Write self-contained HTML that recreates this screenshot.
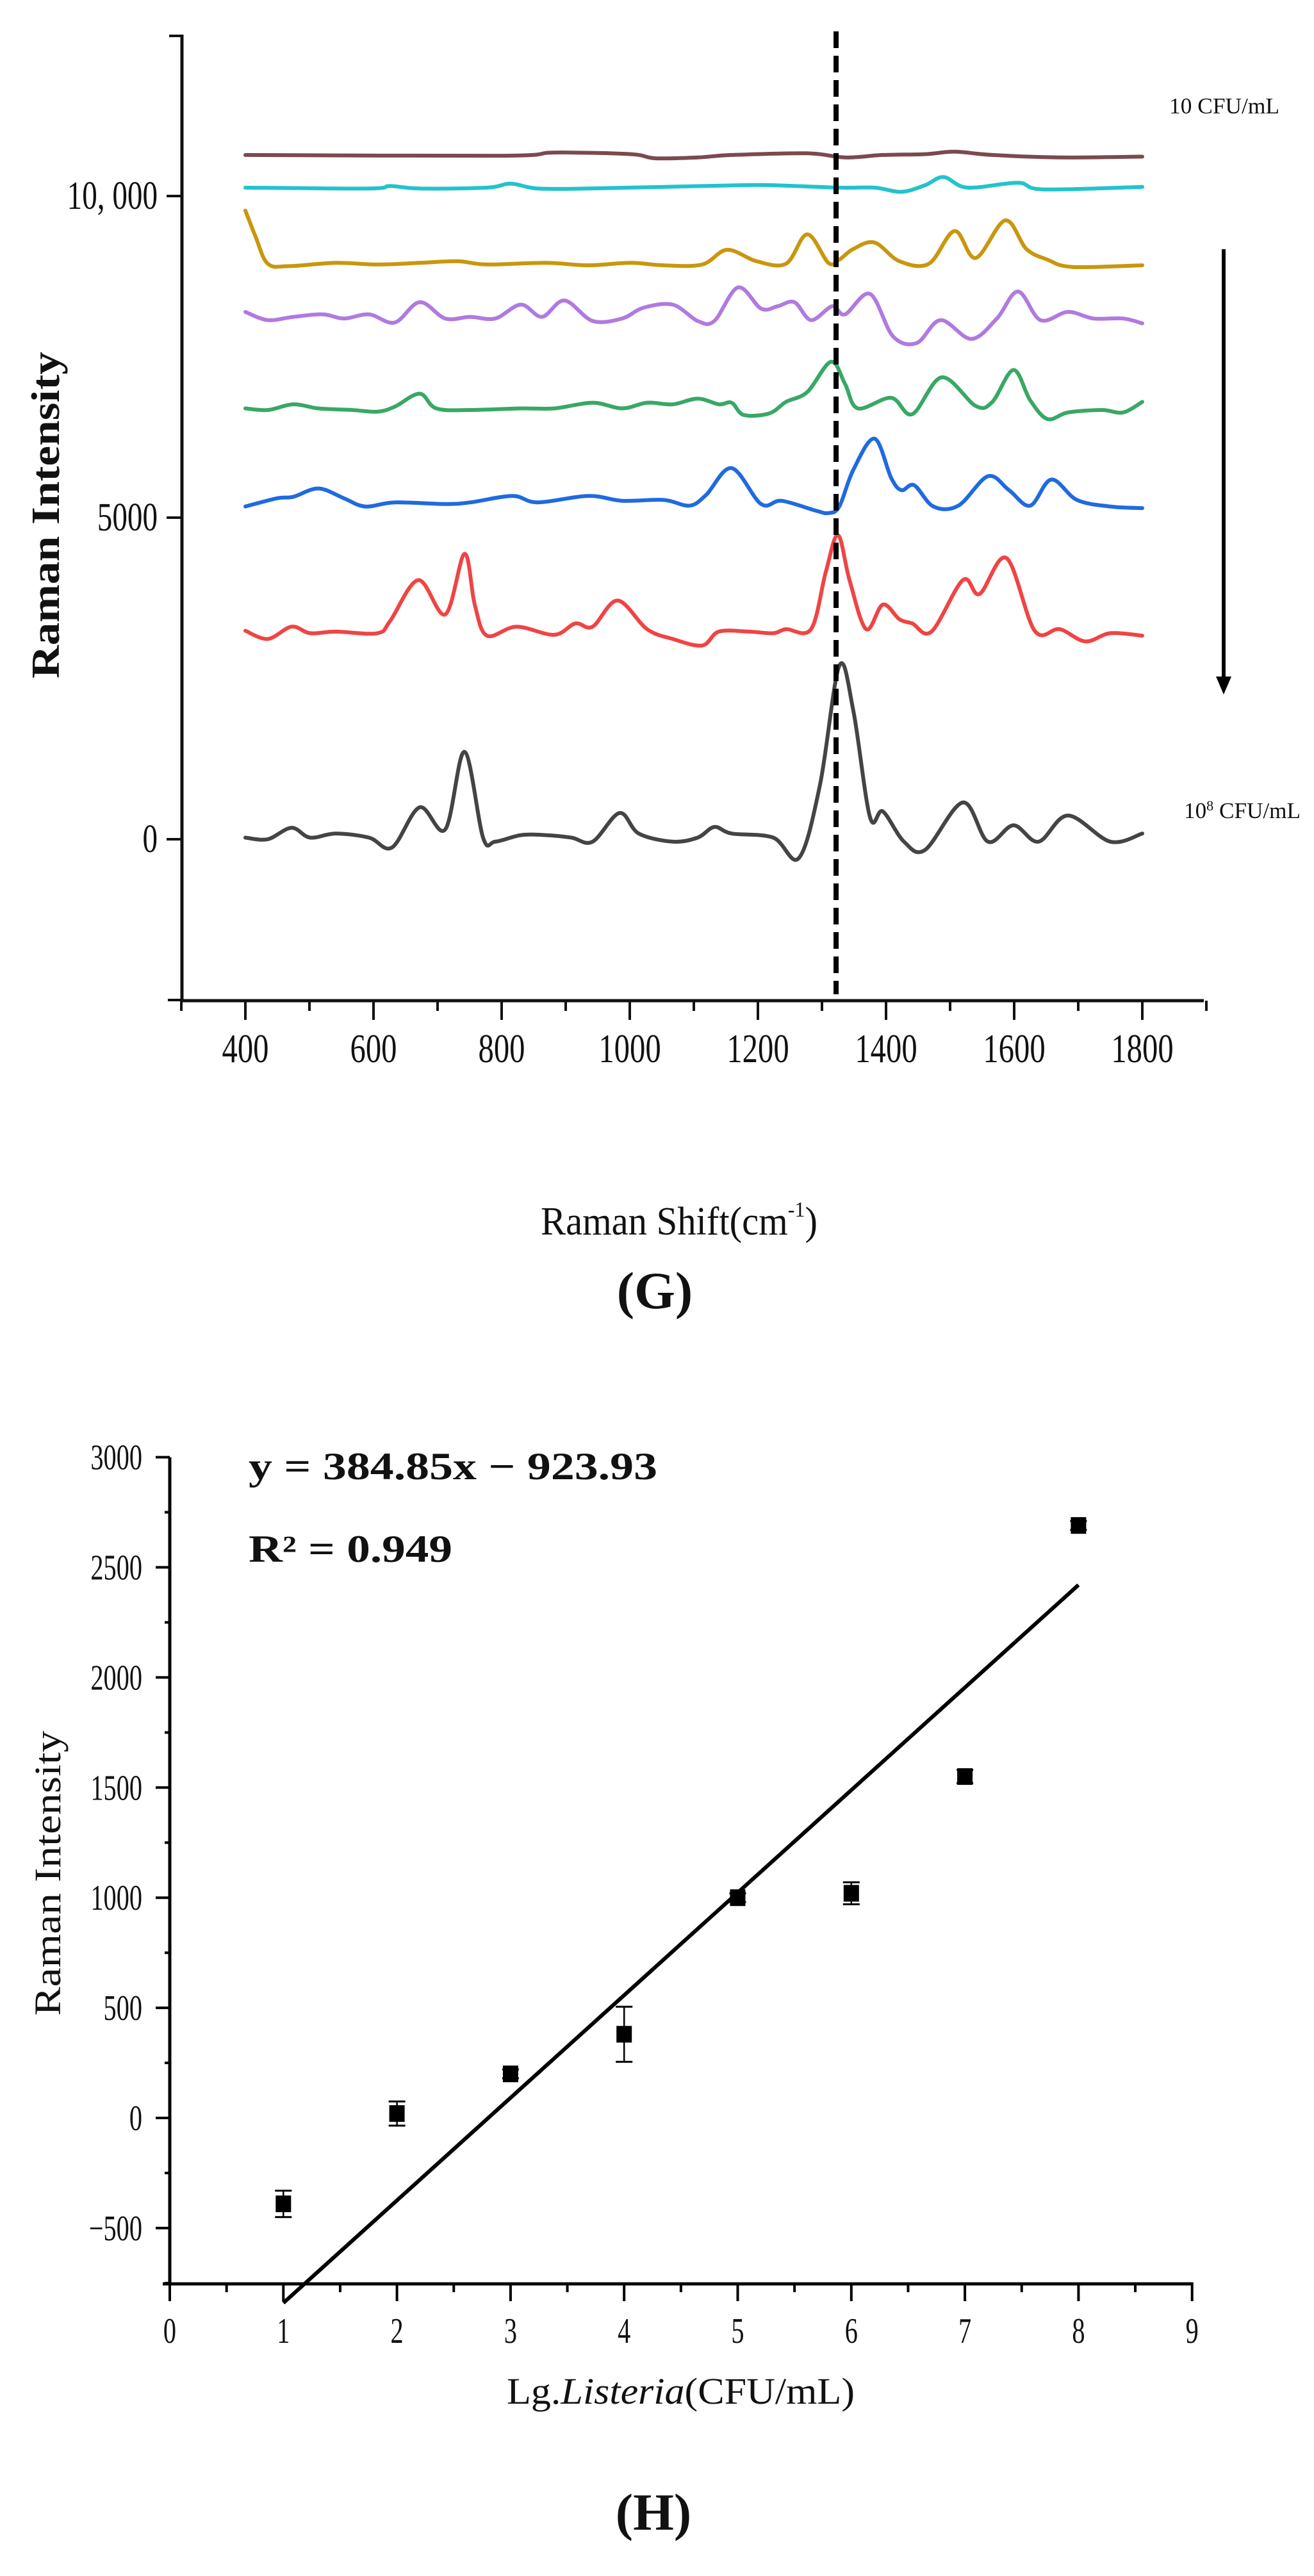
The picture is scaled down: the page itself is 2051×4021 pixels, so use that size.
<!DOCTYPE html>
<html><head><meta charset="utf-8"><style>
html,body{margin:0;padding:0;background:#fff;}
svg{display:block;}
text{font-family:"Liberation Serif",serif;fill:#111;}
</style></head><body>
<svg id="fig" width="2051" height="4021" viewBox="0 0 2051 4021" xmlns="http://www.w3.org/2000/svg">
<g id="chartG"></g>
<g id="chartH"></g>
</svg>
<script>
// ===== Chart G data =====
const gXTicks = [400, 600, 800, 1000, 1200, 1400, 1600, 1800];
const gYTicks = [0, 5000, 10000];
const gYTickLabels = ["0", "5000", "10, 000"];
const gMarker = 1322;
const gColors = ["#7a4a4e", "#22c3cc", "#c9960e", "#b07ae0", "#38a865", "#1f6ae0", "#f04444", "#444444"];
const gNames = ["series-10-cfu", "series-10e2-cfu", "series-10e3-cfu", "series-10e4-cfu", "series-10e5-cfu", "series-10e6-cfu", "series-10e7-cfu", "series-10e8-cfu"];
const brownX = [400,804,882,1001,1040,1106,1159,1277,1336,1395,1461,1507,1566,1671,1800];
const brownY = [10638,10626,10676,10651,10587,10600,10638,10664,10600,10638,10651,10689,10638,10600,10613];
const cyanX = [400,593,626,672,777,814,856,935,1053,1172,1224,1329,1382,1424,1461,1490,1527,1606,1645,1800];
const cyanY = [10130,10117,10155,10117,10130,10193,10117,10117,10142,10168,10168,10130,10130,10066,10168,10295,10130,10206,10104,10142];
const goldX = [400,416,435,468,541,606,672,731,777,869,935,1001,1053,1113,1152,1198,1244,1277,1310,1327,1349,1382,1421,1467,1507,1540,1586,1619,1652,1691,1800];
const goldY = [9774,9367,8948,8910,8961,8935,8961,8986,8935,8961,8923,8961,8923,8935,9164,8986,8948,9405,8961,9011,9177,9278,8986,8948,9456,9037,9621,9177,9011,8897,8923];
const purpleX = [400,435,475,521,554,593,633,672,712,751,790,830,863,898,942,988,1021,1067,1106,1132,1169,1205,1231,1257,1283,1316,1336,1375,1411,1448,1485,1533,1573,1606,1641,1684,1724,1770,1800];
const purpleY = [8198,8071,8122,8160,8096,8160,8033,8350,8096,8122,8096,8312,8122,8376,8058,8096,8262,8312,8058,8058,8579,8249,8287,8350,8071,8287,8160,8478,7817,7715,8071,7779,8096,8516,8071,8198,8096,8096,8020];
const greenX = [400,435,475,514,567,606,633,672,698,751,830,882,942,988,1027,1067,1106,1139,1159,1178,1218,1244,1277,1314,1336,1356,1408,1441,1487,1540,1566,1599,1625,1652,1684,1737,1770,1800];
const greenY = [6698,6673,6762,6698,6673,6647,6724,6927,6698,6673,6698,6698,6787,6698,6787,6762,6851,6762,6787,6596,6622,6800,6952,7423,7079,6698,6863,6609,7181,6736,6800,7296,6825,6533,6635,6673,6635,6800];
const blueX = [400,449,475,514,554,587,633,712,751,817,856,935,988,1053,1093,1119,1159,1205,1237,1290,1310,1327,1349,1382,1408,1424,1444,1474,1513,1559,1592,1625,1658,1698,1750,1800];
const blueY = [5173,5300,5325,5453,5300,5173,5237,5211,5237,5338,5237,5338,5262,5275,5186,5351,5770,5211,5262,5110,5071,5173,5745,6228,5618,5427,5503,5173,5186,5643,5427,5186,5592,5275,5173,5148];
const redX = [400,435,472,501,541,606,626,670,712,742,758,777,823,882,915,942,981,1027,1067,1113,1139,1185,1224,1244,1283,1306,1325,1343,1369,1395,1421,1441,1471,1520,1546,1588,1632,1671,1711,1750,1800];
const redY = [3241,3114,3305,3203,3228,3203,3394,4029,3495,4436,3648,3165,3305,3178,3355,3305,3711,3266,3114,3012,3228,3228,3203,3266,3266,4156,4728,4029,3266,3648,3419,3355,3228,4029,3813,4372,3241,3266,3076,3203,3165];
const blackX = [400,435,472,501,541,593,629,672,712,742,771,790,830,869,909,942,984,1014,1067,1106,1132,1159,1224,1264,1297,1327,1349,1375,1395,1428,1461,1520,1559,1599,1638,1684,1750,1800];
const blackY = [25,0,178,25,89,25,-127,496,153,1360,25,-38,64,64,25,-38,407,89,-38,25,191,89,25,-292,851,2695,1996,343,432,-38,-165,572,-38,216,-38,369,-38,89];

// ===== Chart H data =====
const hXTicks = [0,1,2,3,4,5,6,7,8,9];
const hYTicks = [-500,0,500,1000,1500,2000,2500,3000];
const hPointX = [1,2,3,4,5,6,7,8];
const hPointY = [-390,20,200,380,1000,1020,1550,2690];
const hPointErr = [60,55,20,125,20,50,30,20];
const hFitX = [1,8];
const hFitY = [-840,2420];

const NS = "http://www.w3.org/2000/svg";
function mk(tag, attrs, parent){ const e=document.createElementNS(NS,tag); for(const k in attrs) e.setAttribute(k,attrs[k]); parent.appendChild(e); return e; }
function smooth(pts){
  let d = "M"+pts[0][0].toFixed(1)+","+pts[0][1].toFixed(1);
  for(let i=0;i<pts.length-1;i++){
    const p0=pts[Math.max(0,i-1)], p1=pts[i], p2=pts[i+1], p3=pts[Math.min(pts.length-1,i+2)];
    const c1x=p1[0]+(p2[0]-p0[0])/6, c1y=p1[1]+(p2[1]-p0[1])/6;
    const c2x=p2[0]-(p3[0]-p1[0])/6, c2y=p2[1]-(p3[1]-p1[1])/6;
    d += " C"+c1x.toFixed(1)+","+c1y.toFixed(1)+" "+c2x.toFixed(1)+","+c2y.toFixed(1)+" "+p2[0].toFixed(1)+","+p2[1].toFixed(1);
  }
  return d;
}

// ===== Draw chart G =====
const G = document.getElementById("chartG");
const gx = v => 383 + (v - 400) * 1.0;
const gy = v => 1310 - v * 0.1004;
const gAxisL = 284, gAxisB = 1562;

let e;
e = mk("line",{x1:gAxisL,y1:54,x2:gAxisL,y2:gAxisB,stroke:"#111","stroke-width":5},G);
 
e = mk("line",{x1:gAxisL-3,y1:gAxisB,x2:1879,y2:gAxisB,stroke:"#111","stroke-width":5},G);
 
e = mk("line",{x1:gAxisL-20,y1:56,x2:gAxisL,y2:56,stroke:"#111","stroke-width":4},G);
 

for(let v=300; v<=1900; v+=100){
  const major = gXTicks.indexOf(v)>=0;
  e = mk("line",{x1:gx(v),y1:gAxisB,x2:gx(v),y2:gAxisB+(major?30:16),stroke:"#111","stroke-width":4},G);
   
}
gXTicks.forEach(v=>{
  const t = mk("text",{transform:"translate("+gx(v)+",1658) scale(0.76,1)","text-anchor":"middle","font-size":64},G);
  t.textContent = v;
   
});
gYTicks.forEach((v,i)=>{
  e = mk("line",{x1:gAxisL-24,y1:gy(v),x2:gAxisL,y2:gy(v),stroke:"#111","stroke-width":4},G);
   
  const t = mk("text",{transform:"translate(246,"+(gy(v)+20)+") scale(0.76,1)","text-anchor":"end","font-size":62},G);
  t.textContent = gYTickLabels[i];
   
});
e = mk("line",{x1:gAxisL-22,y1:gy(-2500),x2:gAxisL,y2:gy(-2500),stroke:"#111","stroke-width":4},G);
 

const gSeriesX = [brownX,cyanX,goldX,purpleX,greenX,blueX,redX,blackX];
const gSeriesY = [brownY,cyanY,goldY,purpleY,greenY,blueY,redY,blackY];
gSeriesX.forEach((xs,si)=>{
  const pts = xs.map((x,i)=>[gx(x), gy(gSeriesY[si][i])]);
  const p = mk("path",{d:smooth(pts),fill:"none",stroke:gColors[si],"stroke-width":6,"stroke-linejoin":"round","stroke-linecap":"round"},G);
  
  
});
e = mk("line",{x1:gx(gMarker),y1:49,x2:gx(gMarker),y2:1552,stroke:"#000","stroke-width":8,"stroke-dasharray":"26,12"},G);
 
</script>
<script>
(function(){
  const G=document.getElementById("chartG");
  G.insertAdjacentHTML("beforeend",
   '<line x1="1910" y1="389" x2="1910" y2="1060" stroke="#000" stroke-width="6"/>'+
   '<polygon points="1898,1056 1922,1056 1910,1084" fill="#000"/>'+
   '<text x="1825" y="177" font-size="35" textLength="172" lengthAdjust="spacingAndGlyphs">10 CFU/mL</text>'+
   '<text x="1848" y="1277" font-size="35" textLength="182" lengthAdjust="spacingAndGlyphs">10<tspan font-size="22" dy="-12">8</tspan><tspan dy="12"> CFU/mL</tspan></text>'+
   '<text transform="translate(92,804) rotate(-90)" text-anchor="middle" font-size="62" font-weight="bold" textLength="510" lengthAdjust="spacingAndGlyphs">Raman Intensity</text>'+
   '<text x="844" y="1927" font-size="62" textLength="432" lengthAdjust="spacingAndGlyphs">Raman Shift(cm<tspan font-size="34" dy="-28">-1</tspan><tspan dy="28">)</tspan></text>'+
   '<text x="1022" y="2042" text-anchor="middle" font-size="82" font-weight="bold">(G)</text>'
  );
})();
</script>
<script>
(function(){
const H = document.getElementById("chartH");
const hx = v => 265 + v * 177.3;
const hy = v => 3306 - v * 0.3438;
const axB = 3565, axL = 265;
let e;
e = mk("line",{x1:axL,y1:hy(3000),x2:axL,y2:axB,stroke:"#000","stroke-width":5},H);
 
e = mk("line",{x1:254,y1:axB,x2:hx(9)+2,y2:axB,stroke:"#000","stroke-width":5},H);
 
for(let v=0; v<=9; v+=0.5){
  const major = Number.isInteger(v);
  e = mk("line",{x1:hx(v),y1:axB,x2:hx(v),y2:axB+(major?27:13),stroke:"#000","stroke-width":4},H);
   
}
hXTicks.forEach(v=>{
  const t = mk("text",{transform:"translate("+hx(v)+",3657) scale(0.72,1)","text-anchor":"middle","font-size":56},H);
  t.textContent = v;
   
});
for(let v=-750; v<=3000; v+=250){
  const major = hYTicks.indexOf(v)>=0;
  e = mk("line",{x1:axL-(major?22:8),y1:hy(v),x2:axL,y2:hy(v),stroke:"#000","stroke-width":4},H);
   
}
hYTicks.forEach(v=>{
  const t = mk("text",{transform:"translate(222,"+(hy(v)+19)+") scale(0.72,1)","text-anchor":"end","font-size":56},H);
  t.textContent = v < 0 ? "\u2212" + Math.abs(v) : String(v);
   
});
e = mk("line",{x1:hx(hFitX[0]),y1:hy(hFitY[0]),x2:hx(hFitX[1]),y2:hy(hFitY[1]),stroke:"#000","stroke-width":6},H);
 
hPointX.forEach((x,i)=>{
  const cx=hx(x), cy=hy(hPointY[i]), er=hPointErr[i]*0.3438;
  const g = mk("g",{},H);
  
  
  mk("line",{x1:cx,y1:cy-er,x2:cx,y2:cy+er,stroke:"#000","stroke-width":2.5},g);
  mk("line",{x1:cx-13,y1:cy-er,x2:cx+13,y2:cy-er,stroke:"#000","stroke-width":3},g);
  mk("line",{x1:cx-13,y1:cy+er,x2:cx+13,y2:cy+er,stroke:"#000","stroke-width":3},g);
  mk("rect",{x:cx-12,y:cy-13,width:24,height:26,fill:"#000"},g);
});
H.insertAdjacentHTML("beforeend",
 '<text x="388" y="2309" font-size="60" font-weight="bold" textLength="638" lengthAdjust="spacingAndGlyphs">y = 384.85x \u2212 923.93</text>'+
 '<text x="388" y="2438" font-size="60" font-weight="bold" textLength="318" lengthAdjust="spacingAndGlyphs">R\u00b2 = 0.949</text>'+
 '<text transform="translate(94,2924) rotate(-90)" text-anchor="middle" font-size="58" textLength="445" lengthAdjust="spacingAndGlyphs">Raman Intensity</text>'+
 '<text x="791" y="3752" font-size="58" textLength="543" lengthAdjust="spacingAndGlyphs">Lg.<tspan font-style="italic">Listeria</tspan>(CFU/mL)</text>'+
 '<text x="1020" y="3949" text-anchor="middle" font-size="82" font-weight="bold">(H)</text>'
);
})();
</script>
</body></html>
